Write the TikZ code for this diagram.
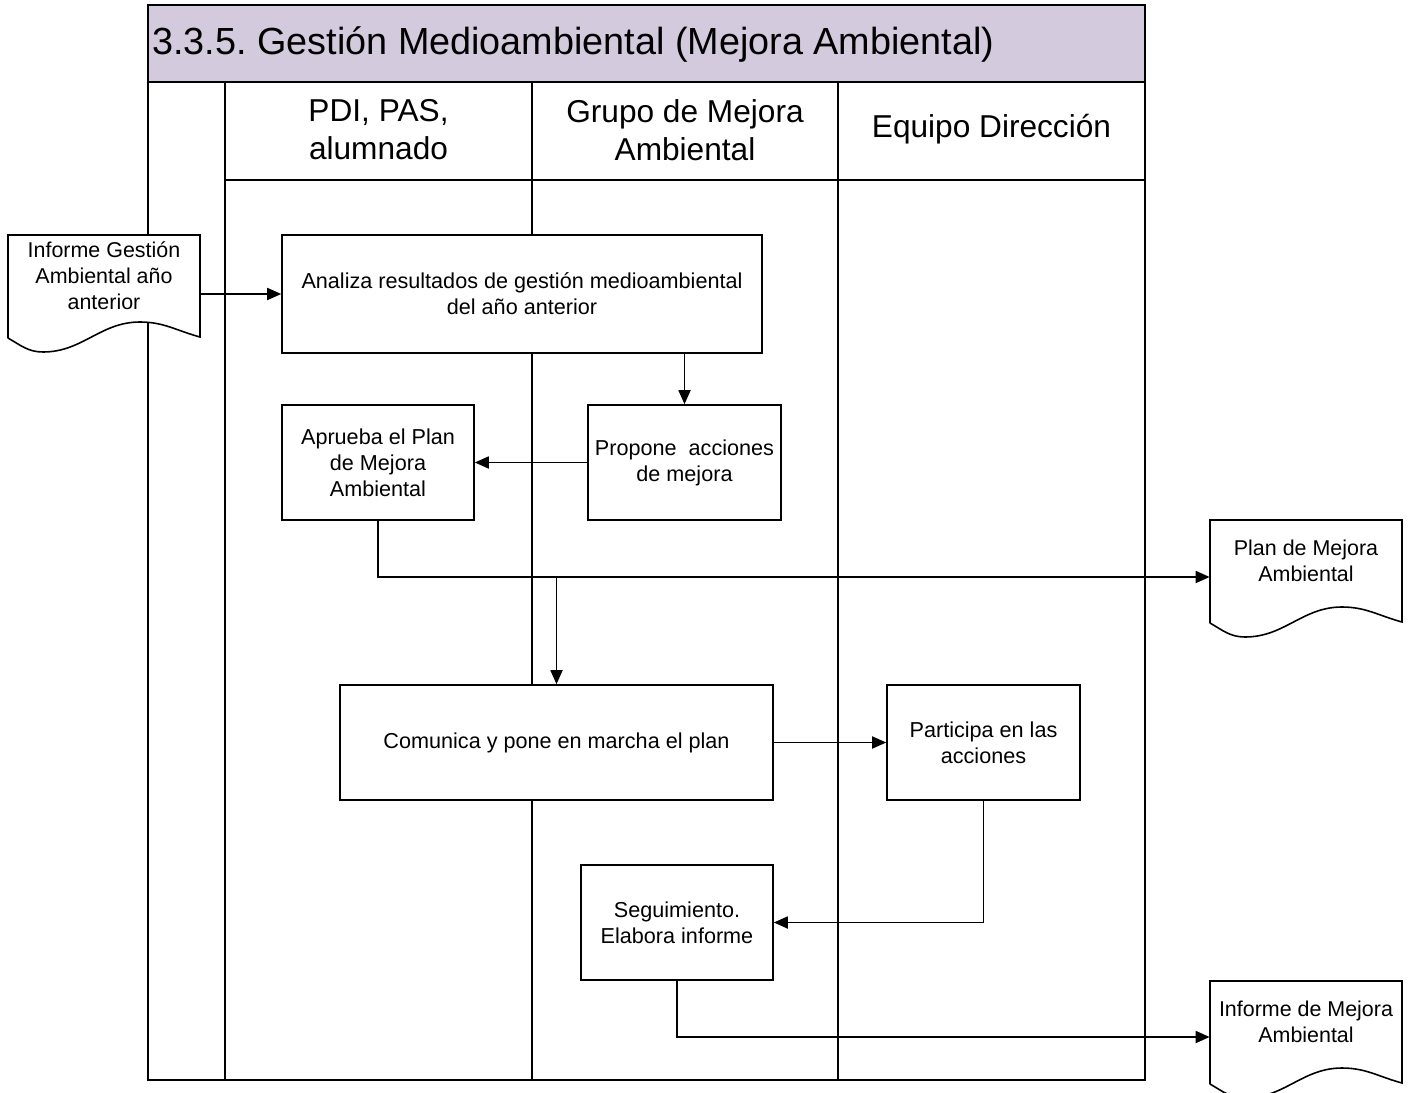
\documentclass[tikz,border=0pt]{standalone}
\usepackage{fontspec}
\setmainfont{Liberation Sans}
\usetikzlibrary{arrows.meta, positioning, calc}
\frenchspacing

\definecolor{titlebar}{RGB}{212,202,222}

% document symbol (white, wavy bottom) round a centre point
\newcommand{\docshape}[1]{%
  \filldraw[fill=white, line width=0.9pt] ([shift={(-1.92,-1.24)}]#1) -- ++(0,2.06)
    -- ++(3.84,0) -- ++(0,-2.04)
    to[out=165,in=0] ++(-1.20,0.30)
    to[out=180,in=0] ++(-1.94,-0.60)
    to[out=180,in=-30] ([shift={(-1.92,-1.24)}]#1);}

\begin{document}
\begin{tikzpicture}[
    lane/.style={line width=1.1pt},
    stepbox/.style={draw, fill=white, line width=0.9pt, minimum height=2.3cm,
                    font=\fontsize{12.3}{14.8}\selectfont, align=center},
    docnode/.style={minimum width=3.84cm, minimum height=1.64cm,
                    font=\fontsize{12.2}{14.8}\selectfont, align=center},
    head/.style={font=\fontsize{18}{21.6}\selectfont, align=center},
    flow/.style={->, line width=1pt},
    >={Triangle[length=0.28cm, width=0.24cm]}
  ]
  \useasboundingbox (0,0) rectangle (28.18,-21.86);

  % Title bar and lanes
  \fill[titlebar] (2.96,-0.10) rectangle (22.90,-1.64);
  \draw[lane] (2.96,-0.10) rectangle (22.90,-21.60);
  \draw[lane] (2.96,-1.64) -- (22.90,-1.64);
  \draw[lane] (4.50,-3.60) -- (22.90,-3.60);
  \draw[lane] (4.50,-1.64) -- (4.50,-21.60);
  \draw[lane] (10.64,-1.64) -- (10.64,-21.60);
  \draw[lane] (16.76,-1.64) -- (16.76,-21.60);
  \node[anchor=west, font=\fontsize{21.5}{25}\selectfont, inner sep=0pt]
    (title) at (3.04,-0.90) {3.3.5. Gestión Medioambiental (Mejora Ambiental)};

  % Lane headings
  \node[head] (hpdi)    at (7.57,-2.60)  {PDI, PAS,\\alumnado};
  \node[head] (hgrupo)  at (13.70,-2.60) {Grupo de Mejora\\Ambiental};
  \node[head] (hequipo) at (19.83,-2.58) {Equipo Dirección};

  % Steps
  \node[stepbox, minimum width=9.6cm, minimum height=2.36cm] (analiza) at (10.44,-5.88)
    {Analiza resultados de gestión medioambiental\\del año anterior};
  \node[stepbox, minimum width=3.84cm] (aprueba) at (7.56,-9.25)
    {Aprueba el Plan\\de Mejora\\Ambiental};
  \node[stepbox, minimum width=3.86cm] (propone) at (13.69,-9.25)
    {Propone\ \ acciones\\de mejora};
  \node[stepbox, minimum width=8.66cm] (comunica) at (11.13,-14.85)
    {Comunica y pone en marcha el plan};
  \node[stepbox, minimum width=3.86cm] (participa) at (19.67,-14.85)
    {Participa en las\\acciones};
  \node[stepbox, minimum width=3.84cm] (seguim) at (13.54,-18.45)
    {Seguimiento.\\Elabora informe};

  % Documents
  \docshape{2.08,-5.52}
  \node[docnode] (docprev) at (2.08,-5.52) {Informe Gestión\\Ambiental año\\anterior};
  \docshape{26.12,-11.22}
  \node[docnode] (docplan) at (26.12,-11.22) {Plan de Mejora\\Ambiental};
  \docshape{26.12,-20.44}
  \node[docnode] (docinf)  at (26.12,-20.44) {Informe de Mejora\\Ambiental};

  % Connectors
  \coordinate (planin) at ([yshift=-0.32cm]docplan.west);
  \coordinate (infin)  at ([yshift=-0.30cm]docinf.west);
  \draw[flow] (analiza.west -| docprev.east) -- (analiza.west);
  \draw[flow] (propone.north |- analiza.south) -- (propone.north);
  \draw[flow] (propone.west) -- (aprueba.east);
  \draw[flow] (aprueba.south) |- (planin);
  \draw[flow] (planin -| comunica.north) -- (comunica.north);
  \draw[flow] (comunica.east) -- (participa.west);
  \draw[flow] (participa.south) |- (seguim.east);
  \draw[flow] (seguim.south) |- (infin);
\end{tikzpicture}
\end{document}
